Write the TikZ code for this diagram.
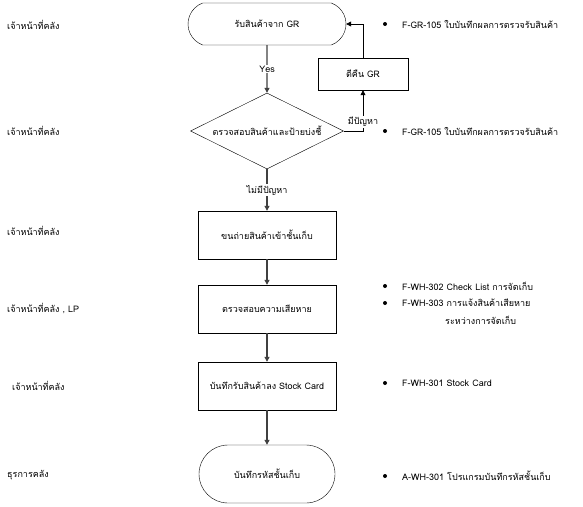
\documentclass[tikz,border=0pt]{standalone}
\usepackage{fontspec}
\setmainfont[Script=Thai]{Loma}
\usetikzlibrary{shapes.geometric,shapes.misc,arrows.meta}

\begin{document}
\begin{tikzpicture}[x=1pt,y=-1pt,font=\fontsize{9}{11}\selectfont,
	box/.style={draw,rectangle,minimum width=138pt,minimum height=48pt,inner sep=0pt},
	term/.style={draw,rounded rectangle,inner sep=0pt},
	flow/.style={draw=black!75,line width=1.1pt,-{Triangle[length=5pt,width=5pt]}},
	back/.style={draw,line width=0.6pt,-{Triangle[length=5pt,width=5pt]}},
	lbl/.style={anchor=west,inner sep=0pt},
	dot/.style={circle,fill,inner sep=0pt,minimum size=4pt}]
	\useasboundingbox (0,0) rectangle (583,506);

	% Steps
	\node[term,minimum width=158pt,minimum height=42pt,rounded rectangle arc length=140] (recv) at (267,24) {รับสินค้าจาก GR};
	\node[draw,diamond,aspect=2,minimum width=153pt,minimum height=76pt,inner sep=0pt] (check) at (267,131) {ตรวจสอบสินค้าและป้ายบ่งชี้};
	\node[draw,rectangle,minimum width=90pt,minimum height=32pt,inner sep=0pt] (ret) at (363,74) {ตีคืน GR};
	\node[box] (move) at (267,235) {ขนถ่ายสินค้าเข้าชั้นเก็บ};
	\node[box] (dmg) at (267,309) {ตรวจสอบความเสียหาย};
	\node[box] (card) at (267,386) {บันทึกรับสินค้าลง Stock Card};
	\node[term,minimum width=136pt,minimum height=58pt] (loc) at (267,474) {บันทึกรหัสชั้นเก็บ};

	% Arrows
	\draw[flow] (recv) -- node[fill=white,inner sep=1pt] {Yes} (check);
	\draw[flow] (check) -- node[fill=white,inner sep=1pt] {ไม่มีปัญหา} (move);
	\draw[flow] (move) -- (dmg);
	\draw[flow] (dmg) -- (card);
	\draw[flow] (card) -- (loc);
	\draw[back] (check.east) -| node[pos=0.61,fill=white,inner sep=1pt] {มีปัญหา} (ret.south);
	\draw[back] (ret.north) |- (recv.east);

	% Who
	\node[lbl] (who1) at (7,25) {เจ้าหน้าที่คลัง};
	\node[lbl] (who2) at (7,131) {เจ้าหน้าที่คลัง};
	\node[lbl] (who3) at (7,231) {เจ้าหน้าที่คลัง};
	\node[lbl] (who4) at (7,309) {เจ้าหน้าที่คลัง , LP};
	\node[lbl] (who5) at (12,386) {เจ้าหน้าที่คลัง};
	\node[lbl] (who6) at (7,475) {ธุรการคลัง};

	% Documents
	\node[dot] (dot1) at (385,24) {};
	\node[lbl] (doc1) at (402,24) {F-GR-105 ใบบันทึกผลการตรวจรับสินค้า};
	\node[dot] (dot2) at (385,131) {};
	\node[lbl] (doc2) at (402,131) {F-GR-105 ใบบันทึกผลการตรวจรับสินค้า};
	\node[dot] (dot3) at (385,286) {};
	\node[lbl] (doc3) at (402,286) {F-WH-302 Check List การจัดเก็บ};
	\node[dot] (dot4) at (385,303) {};
	\node[lbl] (doc4) at (402,303) {F-WH-303 การแจ้งสินค้าเสียหาย};
	\node[lbl] (doc4b) at (445,320) {ระหว่างการจัดเก็บ};
	\node[dot] (dot5) at (385,383) {};
	\node[lbl] (doc5) at (402,383) {F-WH-301 Stock Card};
	\node[dot] (dot6) at (385,476) {};
	\node[lbl] (doc6) at (402,476) {A-WH-301 โปรแกรมบันทึกรหัสชั้นเก็บ};
\end{tikzpicture}
\end{document}
